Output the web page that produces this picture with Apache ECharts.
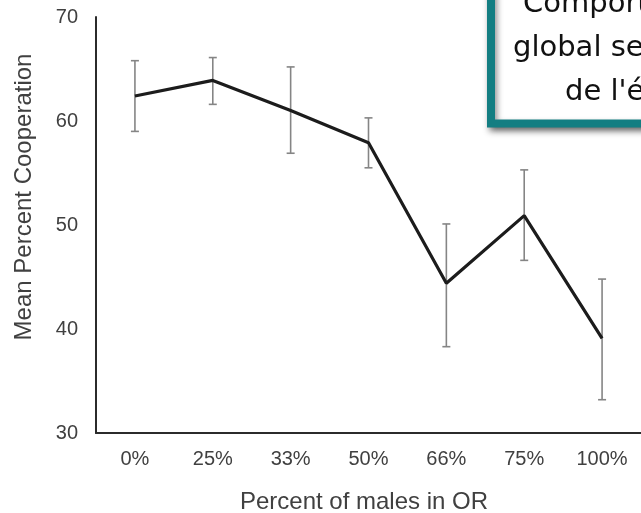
<!DOCTYPE html>
<html>
<head>
<meta charset="utf-8">
<script src="https://cdn.jsdelivr.net/npm/echarts@6/dist/echarts.min.js"></script>
<style>html,body{margin:0;padding:0;background:#fff}#c{width:641px;height:513px}</style>
</head>
<body>
<div id="c"></div>
<script>
const categories = ['0%', '25%', '33%', '50%', '66%', '75%', '100%'];
const meanValues = [62.4, 63.9, 61.0, 57.9, 44.4, 50.9, 39.1];
const errHigh = [65.8, 66.1, 65.2, 60.3, 50.1, 55.3, 44.8];
const errLow = [59.0, 61.6, 56.9, 55.5, 38.3, 46.6, 33.2];
const yTicks = [30, 40, 50, 60, 70];
const yTitle = 'Mean Percent Cooperation';
const xTitle = 'Percent of males in OR';
const boxLines = ['Comportement', 'global selon le', "de l'équipe"];

const chart = echarts.init(document.getElementById('c'), null, {renderer: 'canvas'});
const errData = categories.map((c, i) => [i, errLow[i], errHigh[i]]);
const font = '"Liberation Sans", Arial, sans-serif';
const boxFont = '29px "DejaVu Sans", sans-serif';
chart.setOption({
  animation: false,
  grid: {left: 96, right: -9, top: 17, bottom: 80, containLabel: false},
  xAxis: {
    type: 'category', data: categories, boundaryGap: true,
    axisLine: {lineStyle: {color: '#2b2b2b', width: 2}},
    axisTick: {show: false},
    axisLabel: {color: '#404040', fontSize: 20, fontFamily: font, margin: 16}
  },
  yAxis: {
    type: 'value', min: yTicks[0], max: yTicks[yTicks.length - 1], interval: 10,
    axisLine: {show: true, lineStyle: {color: '#2b2b2b', width: 2}},
    axisTick: {show: false},
    splitLine: {show: false},
    axisLabel: {color: '#404040', fontSize: 20, fontFamily: font, margin: 18}
  },
  series: [
    {
      type: 'custom', data: errData, z: 2,
      renderItem: function (params, api) {
        const x = api.value(0);
        const lo = api.coord([x, api.value(1)]);
        const hi = api.coord([x, api.value(2)]);
        const w = 4;
        const st = {stroke: '#858585', lineWidth: 1.6};
        return {type: 'group', children: [
          {type: 'line', shape: {x1: hi[0], y1: hi[1], x2: lo[0], y2: lo[1]}, style: st},
          {type: 'line', shape: {x1: hi[0] - w, y1: hi[1], x2: hi[0] + w, y2: hi[1]}, style: st},
          {type: 'line', shape: {x1: lo[0] - w, y1: lo[1], x2: lo[0] + w, y2: lo[1]}, style: st}
        ]};
      }
    },
    {
      type: 'line', data: meanValues, z: 3, showSymbol: false, symbol: 'none',
      lineStyle: {color: '#1c1c1c', width: 3.2}
    }
  ],
  graphic: [
    {type: 'text', z: 10, x: 24, y: 197, rotation: Math.PI / 2,
      style: {text: yTitle, fill: '#404040', font: '24px ' + font, textAlign: 'center', textVerticalAlign: 'middle'}},
    {type: 'text', z: 10, x: 364, y: 502,
      style: {text: xTitle, fill: '#404040', font: '24px ' + font, textAlign: 'center', textVerticalAlign: 'middle'}},
    {type: 'rect', z: 20, shape: {x: 491, y: -60, width: 300, height: 183.5},
      style: {fill: '#ffffff', stroke: '#137e82', lineWidth: 8,
        shadowBlur: 6, shadowOffsetX: 2, shadowOffsetY: 4, shadowColor: 'rgba(0,0,0,0.45)'}},
    {type: 'text', z: 21, x: 523, y: 4,
      style: {text: boxLines[0], fill: '#111', font: boxFont, textVerticalAlign: 'middle'}},
    {type: 'text', z: 21, x: 513, y: 48,
      style: {text: boxLines[1], fill: '#111', font: boxFont, textVerticalAlign: 'middle'}},
    {type: 'text', z: 21, x: 565, y: 92,
      style: {text: boxLines[2], fill: '#111', font: boxFont, textVerticalAlign: 'middle'}}
  ]
});
</script>
</body>
</html>
